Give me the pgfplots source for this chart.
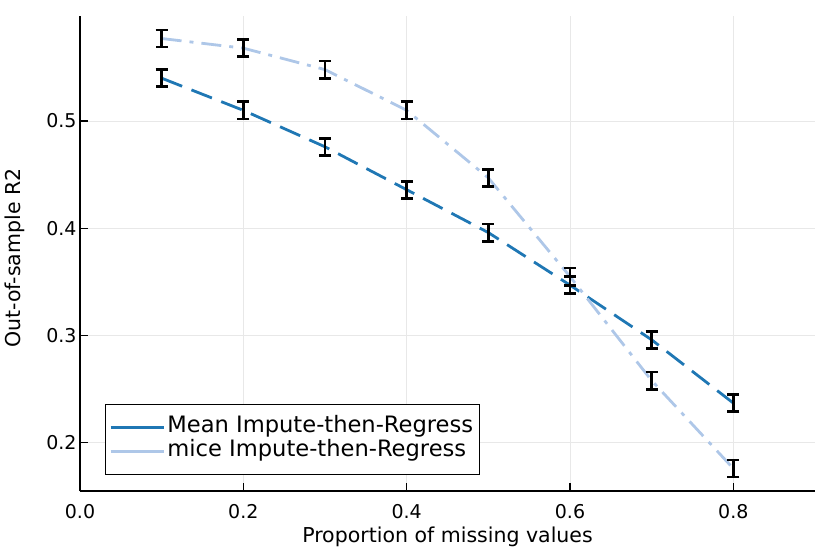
\documentclass[border=0pt]{standalone}
\usepackage{pgfplots}
\pgfplotsset{compat=1.18}
\usepackage{fontspec}
\setmainfont{DejaVu Sans}
\definecolor{c1}{HTML}{1F77B4}
\definecolor{c2}{HTML}{AEC7E8}
\begin{document}
\begin{tikzpicture}
\path[use as bounding box] (-80bp,-63bp) rectangle (750bp,491bp);
\begin{axis}[
  at={(0,0)}, anchor=south west,
  scale only axis, width=735bp, height=475bp,
  xmin=0, xmax=0.9, ymin=0.155, ymax=0.598,
  axis lines=left,
  axis line style={-, line width=1.3bp, black},
  tick align=inside,
  major tick length=8bp,
  tick style={line width=1.2bp, black},
  xtick={0,0.2,0.4,0.6,0.8},
  ytick={0.2,0.3,0.4,0.5},
  grid=major,
  major grid style={line width=0.7bp, color=black!9},
  /pgf/number format/assume math mode=true,
  xticklabel style={/pgf/number format/fixed, /pgf/number format/fixed zerofill, /pgf/number format/precision=1, font=\fontsize{19bp}{22bp}\selectfont, yshift=-10bp},
  yticklabel style={/pgf/number format/fixed, /pgf/number format/fixed zerofill, /pgf/number format/precision=1, font=\fontsize{19bp}{22bp}\selectfont},
  xlabel={Proportion of missing values},
  ylabel={Out-of-sample R2},
  label style={font=\fontsize{20.5bp}{24bp}\selectfont},
  xlabel style={at={(axis description cs:0.5,0)}, anchor=center, yshift=-46bp},
  ylabel style={at={(axis description cs:0,0.49)}, anchor=center, yshift=65bp},
  legend style={at={(0.034,0.034)}, anchor=south west, draw=black, line width=1.2bp,
    inner xsep=4bp, inner ysep=11bp,
    font=\fontsize{22.6bp}{26bp}\selectfont,
    nodes={text height=15bp, text depth=5bp, inner sep=2bp}},
  legend cell align=left,
]
\addplot[c1, line width=2.8bp, dash pattern=on 22bp off 10bp,
  legend image code/.code={\draw[c1, line width=2.8bp, solid] (0bp,0bp) -- (33bp,0bp); \path (0bp,0bp) -- (53bp,0bp);}] coordinates {
(0.1,0.540) (0.2,0.510) (0.3,0.476) (0.4,0.436) (0.5,0.396) (0.6,0.347) (0.7,0.296) (0.8,0.237)};
\addlegendentry{Mean Impute-then-Regress}
\addplot[c2, line width=2.8bp, dash pattern=on 20bp off 8bp on 4bp off 8bp,
  legend image code/.code={\draw[c2, line width=2.8bp, solid] (0bp,0bp) -- (40bp,0bp); \draw[c2, line width=2.8bp, solid] (46bp,0bp) -- (51bp,0bp); \path (0bp,0bp) -- (53bp,0bp);}] coordinates {
(0.1,0.577) (0.2,0.568) (0.3,0.548) (0.4,0.510) (0.5,0.447) (0.6,0.355) (0.7,0.258) (0.8,0.176)};
\addlegendentry{mice Impute-then-Regress}
\addplot[forget plot, draw=none, mark=none,
  error bars/.cd, y dir=both, y explicit,
  error bar style={draw=black, solid, line width=2.8bp},
  error mark options={rotate=90, mark size=6bp, line width=2.8bp, draw=black, solid}]
  table[x=x, y=y, y error=e] {
x y e
0.1 0.540 0.008
0.2 0.510 0.008
0.3 0.476 0.008
0.4 0.436 0.008
0.5 0.396 0.008
0.6 0.347 0.008
0.7 0.296 0.008
0.8 0.237 0.008
};
\addplot[forget plot, draw=none, mark=none,
  error bars/.cd, y dir=both, y explicit,
  error bar style={draw=black, solid, line width=2.8bp},
  error mark options={rotate=90, mark size=6bp, line width=2.8bp, draw=black, solid}]
  table[x=x, y=y, y error=e] {
x y e
0.1 0.577 0.008
0.2 0.568 0.008
0.3 0.548 0.008
0.4 0.510 0.008
0.5 0.447 0.008
0.6 0.355 0.008
0.7 0.258 0.008
0.8 0.176 0.008
};
\end{axis}
\end{tikzpicture}
\end{document}
